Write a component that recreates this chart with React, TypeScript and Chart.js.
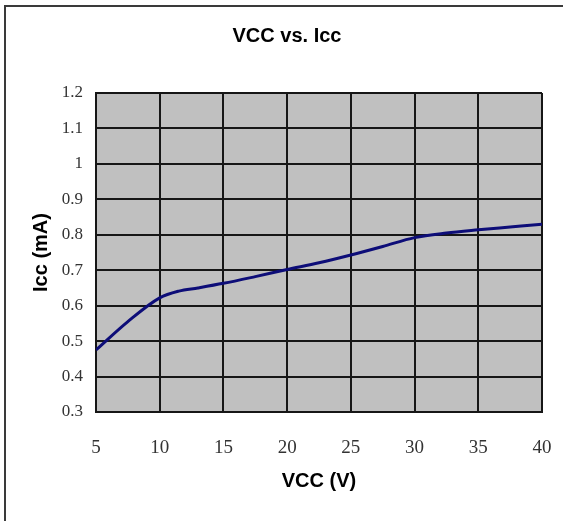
import React, { useEffect, useRef } from "react";
import { Chart, registerables } from "chart.js";

Chart.register(...registerables);

const chartTitle = "VCC vs. Icc";
const xAxisTitle = "VCC (V)";
const yAxisTitle = "Icc (mA)";

const vccVolts = [5, 7.5, 10, 11.5, 13, 15, 17.5, 20, 22.5, 25, 27.5, 30, 32.5, 35, 37.5, 40];
const iccMilliamps = [0.475, 0.555, 0.622, 0.641, 0.65, 0.663, 0.682, 0.702, 0.721, 0.743, 0.767, 0.792, 0.805, 0.814, 0.822, 0.83];

const xTicks = [5, 10, 15, 20, 25, 30, 35, 40];
const xTickLabels = ["5", "10", "15", "20", "25", "30", "35", "40"];
const yTicks = [0.3, 0.4, 0.5, 0.6, 0.7, 0.8, 0.9, 1.0, 1.1, 1.2];
const yTickLabels = ["0.3", "0.4", "0.5", "0.6", "0.7", "0.8", "0.9", "1", "1.1", "1.2"];

const plotBackground = {
  id: "plotBackground",
  beforeDraw(chart: any) {
    const { ctx, chartArea } = chart;
    if (!chartArea) return;
    ctx.save();
    ctx.fillStyle = "#c0c0c0";
    ctx.fillRect(chartArea.left, chartArea.top, chartArea.right - chartArea.left, chartArea.bottom - chartArea.top);
    ctx.restore();
  },
};

const headTitle = {
  id: "headTitle",
  afterDraw(chart: any) {
    const { ctx } = chart;
    ctx.save();
    ctx.fillStyle = "#000000";
    ctx.font = "bold 20px 'Liberation Sans', Arial, sans-serif";
    ctx.textAlign = "center";
    ctx.textBaseline = "middle";
    ctx.fillText(chartTitle, 287, 36);
    ctx.restore();
  },
};

export default function App() {
  const canvasRef = useRef<HTMLCanvasElement | null>(null);

  useEffect(() => {
    document.body.style.margin = "0";
    document.body.style.background = "#ffffff";
    document.body.style.overflow = "hidden";
    const canvas = canvasRef.current;
    if (!canvas) return;
    const chart = new Chart(canvas, {
      type: "line",
      data: {
        datasets: [
          {
            label: "Icc",
            data: vccVolts.map((x, i) => ({ x, y: iccMilliamps[i] })),
            borderColor: "#0d0d78",
            borderWidth: 3,
            pointRadius: 0,
            fill: false,
            cubicInterpolationMode: "monotone",
          },
        ],
      },
      options: {
        responsive: false,
        animation: false,
        devicePixelRatio: 1,
        layout: { padding: { left: 29, right: 21, top: 93, bottom: 0 } },
        plugins: {
          legend: { display: false },
          tooltip: { enabled: false },
          title: { display: false },
        },
        scales: {
          x: {
            type: "linear",
            min: 5,
            max: 40,
            afterBuildTicks: (scale: any) => {
              scale.ticks = xTicks.map((v) => ({ value: v }));
            },
            afterFit: (scale: any) => {
              scale.height = 521 - 412;
              scale.paddingLeft = 0;
              scale.paddingRight = 0;
            },
            ticks: {
              color: "#333333",
              padding: 25,
              maxRotation: 0,
              font: { family: "'Liberation Serif', 'Times New Roman', serif", size: 19 },
              callback: (_v: any, i: number) => xTickLabels[i],
            },
            grid: { color: "#161616", lineWidth: 2, drawTicks: false },
            border: { color: "#161616", width: 2 },
            title: {
              display: true,
              text: xAxisTitle,
              color: "#000000",
              font: { family: "'Liberation Sans', Arial, sans-serif", size: 20, weight: "bold" },
              padding: { top: 0, bottom: 28 },
            },
          },
          y: {
            type: "linear",
            min: 0.3,
            max: 1.2,
            afterBuildTicks: (scale: any) => {
              scale.ticks = yTicks.map((v) => ({ value: v }));
            },
            afterFit: (scale: any) => {
              scale.width = 96 - 29;
              scale.paddingTop = 0;
              scale.paddingBottom = 0;
            },
            ticks: {
              color: "#333333",
              padding: 13,
              font: { family: "'Liberation Serif', 'Times New Roman', serif", size: 17 },
              callback: (_v: any, i: number) => yTickLabels[i],
            },
            grid: { color: "#161616", lineWidth: 2, drawTicks: false },
            border: { color: "#161616", width: 2 },
            title: {
              display: true,
              text: yAxisTitle,
              color: "#000000",
              font: { family: "'Liberation Sans', Arial, sans-serif", size: 20, weight: "bold" },
              padding: { top: 0, bottom: 0 },
            },
          },
        },
      },
      plugins: [plotBackground, headTitle],
    } as any);
    return () => chart.destroy();
  }, []);

  return (
    <div>
      <div
        style={{
          position: "fixed",
          left: 4,
          top: 5,
          width: 620,
          height: 600,
          border: "2px solid #3a3a3a",
          boxSizing: "border-box",
        }}
      />
      <canvas
        ref={canvasRef}
        width={563}
        height={521}
        style={{ position: "fixed", left: 0, top: 0, width: 563, height: 521 }}
      />
    </div>
  );
}
